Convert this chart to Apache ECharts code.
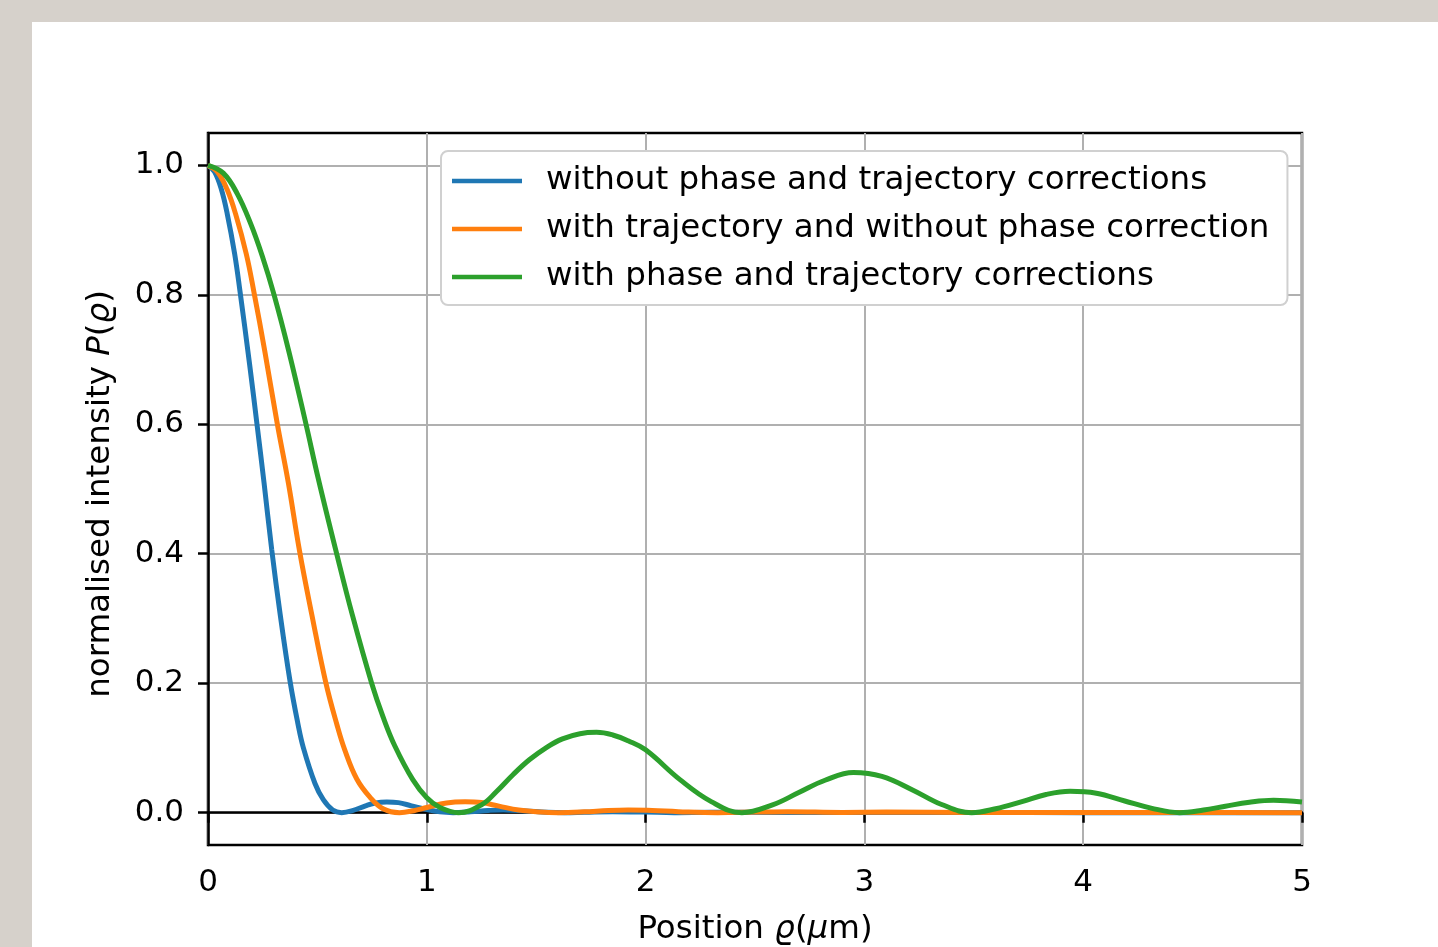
<!DOCTYPE html>
<html>
<head>
<meta charset="utf-8">
<title>normalised intensity</title>
<script src="https://cdn.jsdelivr.net/npm/echarts@6/dist/echarts.min.js"></script>
<style>
  html, body { margin: 0; padding: 0; background: #d6d1cb; overflow: hidden; }
  #panel { position: absolute; left: 32px; top: 22px; right: 0; bottom: 0; background: #fff; }
  #chart { position: absolute; left: 0; top: 0; width: 1438px; height: 947px; }
</style>
</head>
<body>
<div id="panel"></div>
<div id="chart"></div>
<script>
// values
const seriesNames = [
  'without phase and trajectory corrections',
  'with trajectory and without phase correction',
  'with phase and trajectory corrections'
];

const xBlue = [0, 0.03, 0.061, 0.088, 0.122, 0.146, 0.19, 0.225, 0.256, 0.291, 0.33, 0.375, 0.41, 0.436, 0.489, 0.527, 0.57, 0.611, 0.66, 0.72, 0.76, 0.817, 0.87, 0.93, 1.0, 1.06, 1.12, 1.2, 1.28, 1.35, 1.45, 1.55, 1.63, 1.72, 1.85, 2.0, 2.13, 2.3, 2.6, 3.0, 3.5, 4.0, 4.5, 5.0];
const yBlue = [1.0, 0.99, 0.963, 0.925, 0.863, 0.806, 0.693, 0.597, 0.51, 0.407, 0.306, 0.203, 0.139, 0.1, 0.045, 0.02, 0.004, 0.0, 0.003, 0.0105, 0.0145, 0.0165, 0.0155, 0.0105, 0.0048, 0.0012, 0.0, 0.0013, 0.0033, 0.0042, 0.0027, 0.0006, 0.0, 0.0006, 0.0015, 0.0009, 0.0, 0.0005, 0.0003, 0.0002, 0.0001, 0.0, 0.0, 0.0];

const xOrange = [0, 0.043, 0.087, 0.126, 0.175, 0.209, 0.26, 0.317, 0.367, 0.418, 0.475, 0.539, 0.59, 0.625, 0.68, 0.74, 0.8, 0.875, 0.94, 1.0, 1.09, 1.175, 1.25, 1.33, 1.42, 1.52, 1.6, 1.72, 1.83, 1.92, 2.03, 2.15, 2.33, 2.5, 2.65, 2.9, 3.1, 3.5, 4.0, 4.5, 5.0];
const yOrange = [1.0, 0.99, 0.963, 0.925, 0.863, 0.806, 0.712, 0.6, 0.51, 0.405, 0.305, 0.2, 0.135, 0.097, 0.052, 0.024, 0.006, 0.0, 0.003, 0.008, 0.015, 0.0168, 0.0155, 0.01, 0.004, 0.0008, 0.0, 0.0012, 0.0034, 0.0042, 0.0033, 0.0015, 0.0, 0.0008, 0.0015, 0.0003, 0.0008, 0.0003, 0.0002, 0.0001, 0.0];

const xGreen = [0, 0.07, 0.134, 0.195, 0.248, 0.302, 0.37, 0.448, 0.504, 0.588, 0.66, 0.748, 0.8, 0.854, 0.936, 1.0, 1.06, 1.145, 1.25, 1.32, 1.395, 1.47, 1.548, 1.62, 1.7, 1.776, 1.85, 1.92, 2.0, 2.157, 2.3, 2.44, 2.58, 2.7, 2.82, 2.95, 3.08, 3.22, 3.35, 3.49, 3.6, 3.72, 3.83, 3.94, 4.06, 4.19, 4.31, 4.44, 4.55, 4.65, 4.76, 4.87, 5.0];
const yGreen = [1.0, 0.988, 0.956, 0.91, 0.86, 0.8, 0.712, 0.6, 0.516, 0.4, 0.305, 0.2, 0.148, 0.103, 0.051, 0.023, 0.008, 0.0, 0.012, 0.033, 0.059, 0.082, 0.101, 0.114, 0.122, 0.124, 0.12, 0.111, 0.097, 0.051, 0.017, 0.0, 0.012, 0.031, 0.05, 0.062, 0.056, 0.035, 0.013, 0.0, 0.006, 0.017, 0.028, 0.033, 0.03, 0.018, 0.007, 0.0, 0.004, 0.01, 0.016, 0.019, 0.0165];

const xTicks = [0, 1, 2, 3, 4, 5];
const yTicks = [0, 0.2, 0.4, 0.6, 0.8, 1.0];

const colors = ['#1f77b4', '#ff7f0e', '#2ca02c'];
const FONT = 'DejaVu Sans';
const TEXT_SIZE = 32.5;
const TICK_SIZE = 31;

const zip = (xs, ys) => xs.map((x, i) => [x, ys[i]]);
const curves = [zip(xBlue, yBlue), zip(xOrange, yOrange), zip(xGreen, yGreen)];

const chart = echarts.init(document.getElementById('chart'), null, { renderer: 'canvas' });

const tickStyle = { show: true, inside: false, length: 10, lineStyle: { color: '#000', width: 2.5 } };
const tickLabel = { color: '#000', fontFamily: FONT, fontSize: TICK_SIZE };
const rich = { i: { fontStyle: 'italic', fontFamily: FONT, fontSize: TEXT_SIZE, color: '#000' } };

chart.setOption({
  animation: false,
  backgroundColor: 'transparent',
  color: colors,
  grid: {
    left: 208, right: 136, top: 133, bottom: 102,
    outerBoundsMode: 'none',
    show: true, borderColor: '#000', borderWidth: 2.5, backgroundColor: 'transparent'
  },
  legend: {
    orient: 'vertical',
    left: 441, top: 151,
    icon: 'rect',
    itemWidth: 70, itemHeight: 4.5,
    itemGap: 14,
    padding: [13, 18, 11, 11],
    backgroundColor: '#fff',
    borderColor: '#d0d0d0', borderWidth: 2, borderRadius: 7,
    textStyle: { color: '#000', fontFamily: FONT, fontSize: TEXT_SIZE, lineHeight: 34, padding: [0, 0, 0, 19] },
    data: seriesNames
  },
  xAxis: {
    type: 'value',
    min: xTicks[0], max: xTicks[xTicks.length - 1], interval: 1,
    axisLine: { show: true, lineStyle: { color: '#000', width: 2.5 } },
    axisTick: tickStyle,
    axisLabel: Object.assign({ margin: 22 }, tickLabel),
    splitLine: { show: true, lineStyle: { color: '#b0b0b0', width: 2 } },
    name: 'Position {i|ϱ}({i|μ}m)',
    nameLocation: 'middle',
    nameGap: 68,
    nameTextStyle: { color: '#000', fontFamily: FONT, fontSize: TEXT_SIZE, rich: rich }
  },
  yAxis: {
    type: 'value',
    min: -0.05, max: 1.05,
    axisLine: { show: true, lineStyle: { color: '#000', width: 2.5 } },
    axisTick: Object.assign({ customValues: yTicks }, tickStyle),
    axisLabel: Object.assign({ margin: 24, customValues: yTicks, formatter: v => v.toFixed(1) }, tickLabel),
    splitLine: { show: true, lineStyle: { color: '#b0b0b0', width: 2 } },
    name: 'normalised intensity {i|P}({i|ϱ})',
    nameLocation: 'middle',
    nameGap: 91,
    nameTextStyle: { color: '#000', fontFamily: FONT, fontSize: TEXT_SIZE, padding: [0, 10, 0, 0], rich: rich }
  },
  series: curves.map((d, i) => ({
    name: seriesNames[i],
    type: 'line',
    data: d,
    smooth: 0.4,
    symbol: 'none',
    lineStyle: { width: 5, color: colors[i] },
    z: 3 + i
  }))
});
</script>
</body>
</html>
